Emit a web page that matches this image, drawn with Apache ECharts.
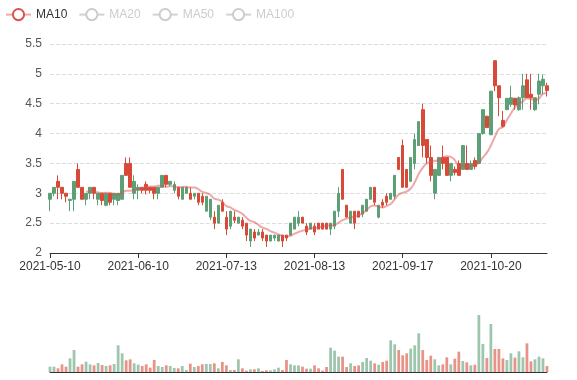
<!DOCTYPE html>
<html><head><meta charset="utf-8">
<script src="https://cdn.jsdelivr.net/npm/echarts@6/dist/echarts.min.js"></script>
<style>html,body{margin:0;padding:0;background:#fff}#c{width:577px;height:380px}</style>
</head><body><div id="c"></div>
<script>
const dates = [
'2021-05-10','2021-05-11','2021-05-12','2021-05-13','2021-05-14','2021-05-17','2021-05-18','2021-05-19','2021-05-20','2021-05-21',
'2021-05-24','2021-05-25','2021-05-26','2021-05-27','2021-05-28','2021-06-01','2021-06-02','2021-06-03','2021-06-04','2021-06-07',
'2021-06-08','2021-06-09','2021-06-10','2021-06-11','2021-06-14','2021-06-15','2021-06-16','2021-06-17','2021-06-18','2021-06-21',
'2021-06-22','2021-06-23','2021-06-24','2021-06-25','2021-06-28','2021-06-29','2021-06-30','2021-07-01','2021-07-02','2021-07-06',
'2021-07-07','2021-07-08','2021-07-09','2021-07-12','2021-07-13','2021-07-14','2021-07-15','2021-07-16','2021-07-19','2021-07-20',
'2021-07-21','2021-07-22','2021-07-23','2021-07-26','2021-07-27','2021-07-28','2021-07-29','2021-07-30','2021-08-02','2021-08-03',
'2021-08-04','2021-08-05','2021-08-06','2021-08-09','2021-08-11','2021-08-12','2021-08-13','2021-08-16','2021-08-17','2021-08-18',
'2021-08-19','2021-08-20','2021-08-23','2021-08-24','2021-08-25','2021-08-26','2021-08-27','2021-08-30','2021-08-31','2021-09-01',
'2021-09-02','2021-09-03','2021-09-07','2021-09-08','2021-09-09','2021-09-13','2021-09-14','2021-09-16','2021-09-17','2021-09-20',
'2021-09-21','2021-09-22','2021-09-23','2021-09-24','2021-09-27','2021-09-28','2021-09-29','2021-09-30','2021-10-01','2021-10-04',
'2021-10-05','2021-10-06','2021-10-07','2021-10-08','2021-10-11','2021-10-12','2021-10-13','2021-10-14','2021-10-15','2021-10-18',
'2021-10-20','2021-10-21','2021-10-22','2021-10-25','2021-10-26','2021-10-27','2021-10-28','2021-10-29','2021-11-01','2021-11-02',
'2021-11-03','2021-11-04','2021-11-05','2021-11-08','2021-11-09'];

const closes = [
3.0,3.1,3.1,3.0,2.95,2.9,3.2,3.1,2.9,3.0,
3.1,3.0,3.0,2.88,3.0,2.85,3.0,3.0,3.3,3.3,
3.1,3.2,3.1,3.05,3.05,3.05,3.0,3.1,3.3,3.15,
3.2,3.15,2.95,3.1,3.1,2.9,3.0,2.85,2.85,2.95,
2.9,2.5,2.8,2.7,2.4,2.7,2.55,2.6,2.45,2.3,
2.4,2.25,2.35,2.25,2.2,2.3,2.3,2.3,2.2,2.25,
2.5,2.6,2.6,2.5,2.35,2.5,2.35,2.4,2.4,2.4,
2.5,2.7,3.0,2.9,2.6,2.7,2.5,2.6,2.8,2.9,
3.1,2.85,2.8,2.8,2.85,3.0,3.3,3.4,3.1,3.1,
3.6,3.9,4.2,3.8,3.6,3.3,3.4,3.6,3.5,3.3,
3.5,3.35,3.3,3.8,3.4,3.5,3.45,4.0,4.4,4.1,
4.71,4.8,4.6,4.12,4.59,4.6,4.48,4.6,4.8,4.6,
4.6,4.6,4.88,4.91,4.72];
const opens = [
2.9,3.0,3.2,3.1,3.0,2.88,2.9,3.4,3.1,2.9,
3.0,3.1,2.9,3.0,2.8,3.0,2.9,2.88,2.9,3.5,
3.5,3.0,3.05,3.1,3.15,3.1,3.1,3.0,3.1,3.3,
3.15,3.05,3.1,2.9,3.0,3.0,2.95,3.0,2.95,2.7,
2.6,2.6,2.5,2.85,2.6,2.45,2.6,2.5,2.55,2.5,
2.2,2.35,2.3,2.35,2.3,2.2,2.25,2.2,2.3,2.3,
2.3,2.4,2.5,2.6,2.45,2.4,2.45,2.5,2.5,2.5,
2.4,2.45,2.7,3.4,2.8,2.5,2.7,2.7,2.65,2.7,
2.9,3.1,2.6,2.85,2.95,2.9,2.95,3.6,3.8,3.4,
3.2,3.5,3.8,4.4,3.9,3.6,3.0,3.3,3.6,3.6,
3.3,3.4,3.5,3.4,3.5,3.4,3.55,3.5,4.0,4.29,
3.98,5.22,4.8,4.22,4.4,4.49,4.59,4.4,4.6,4.9,
4.66,4.4,4.66,4.8,4.8];
const lows = [
2.7,2.95,2.9,2.9,2.85,2.7,2.7,3.1,2.9,2.8,
2.9,2.9,2.8,2.8,2.78,2.8,2.8,2.8,2.9,3.3,
3.1,2.9,2.9,3.0,2.98,3.0,2.9,2.9,3.1,3.1,
3.12,3.0,2.9,2.9,3.0,2.9,2.9,2.8,2.8,2.7,
2.55,2.4,2.5,2.7,2.3,2.4,2.5,2.5,2.4,2.2,
2.1,2.2,2.3,2.2,2.1,2.2,2.2,2.2,2.1,2.2,
2.3,2.4,2.45,2.5,2.3,2.4,2.3,2.4,2.4,2.4,
2.3,2.4,2.6,2.9,2.6,2.5,2.4,2.6,2.6,2.7,
2.9,2.8,2.58,2.75,2.8,2.9,2.9,3.4,3.1,3.1,
3.2,3.4,3.8,3.6,3.5,3.2,2.9,3.3,3.4,3.3,
3.2,3.3,3.3,3.4,3.4,3.4,3.4,3.5,3.98,4.1,
3.98,4.71,4.29,4.1,4.4,4.45,4.4,4.38,4.4,4.6,
4.4,4.38,4.49,4.66,4.62];
const highs = [
3.0,3.1,3.3,3.1,3.0,2.9,3.2,3.5,3.1,3.0,
3.1,3.1,3.0,3.0,3.0,3.0,3.0,3.0,3.3,3.6,
3.6,3.3,3.15,3.1,3.2,3.1,3.1,3.1,3.3,3.3,
3.2,3.2,3.1,3.1,3.1,3.1,3.0,3.0,3.0,2.95,
2.9,2.7,2.8,2.9,2.7,2.7,2.7,2.6,2.6,2.5,
2.4,2.4,2.4,2.4,2.3,2.3,2.3,2.3,2.3,2.3,
2.5,2.6,2.7,2.6,2.5,2.5,2.5,2.5,2.5,2.5,
2.5,2.7,3.1,3.4,2.8,2.7,2.7,2.7,2.8,2.9,
3.1,3.1,2.8,2.9,3.0,3.0,3.3,3.6,3.9,3.4,
3.6,4.0,4.2,4.5,3.9,3.8,3.4,3.6,3.8,3.6,
3.5,3.45,3.55,3.8,3.8,3.55,3.6,4.0,4.4,4.3,
4.71,5.22,4.8,4.38,4.59,4.8,4.6,4.62,5.0,5.0,
5.0,4.6,5.0,4.99,4.85];
const volumes = [
16,16,11,23,16,41,66,16,23,31,
23,20,27,21,18,20,24,80,56,35,
38,26,22,18,23,13,36,18,15,20,
18,12,11,18,6,25,15,18,23,24,
24,26,11,30,20,6,6,38,11,4,
8,8,11,3,5,5,8,13,6,36,
23,20,20,16,10,10,20,11,4,15,
73,64,46,46,15,26,18,20,30,42,
34,26,22,30,34,95,83,66,50,56,
70,80,116,66,36,49,38,20,23,44,
23,40,61,33,29,20,22,171,84,42,
144,69,69,41,36,56,43,62,44,86,
32,38,46,41,18];

const UP = '#5d9f76', DOWN = '#d84a38';
const candle = dates.map((d,i)=>[opens[i],closes[i],lows[i],highs[i]]);
function ma(n){ const r=[]; for(let i=0;i<closes.length;i++){ if(i<n-1){r.push('-');continue;} let s=0; for(let j=0;j<n;j++) s+=closes[i-j]; r.push(+(s/n).toFixed(3)); } return r; }
const vol = volumes.map((v,i)=>({value:v,itemStyle:{color: closes[i]>=opens[i]?UP:DOWN, opacity:0.6}}));

const chart = echarts.init(document.getElementById('c'));
chart.setOption({
  animation:false,
  legend:{ left:0, top:3, itemGap:11, data:['MA10','MA20','MA50','MA100'], selected:{MA20:false,MA50:false,MA100:false}, textStyle:{color:'#333',fontSize:12}, inactiveColor:'#ccc' },
  grid:[{left:50,right:30,top:44,height:209},{left:50,right:30,top:315,height:57}],
  xAxis:[
    {type:'category',data:dates,boundaryGap:false,axisLine:{lineStyle:{color:'#333'}},axisTick:{interval:21},axisLabel:{interval:21,color:'#333',fontSize:12},splitLine:{show:false}},
    {type:'category',gridIndex:1,data:dates,boundaryGap:false,axisLine:{lineStyle:{color:'#333'}},axisTick:{show:false},axisLabel:{show:false}}
  ],
  yAxis:[
    {min:2,max:5.5,interval:0.5,axisLine:{show:false},axisTick:{show:false},axisLabel:{color:'#555',fontSize:12},splitLine:{lineStyle:{type:'dashed',color:'#ddd'}}},
    {gridIndex:1,min:0,max:'dataMax',show:false,splitLine:{show:false}}
  ],
  series:[
    {type:'candlestick',name:'K',data:candle,barWidth:3,itemStyle:{color:UP,color0:DOWN,borderColor:UP,borderColor0:DOWN}},
    {type:'line',name:'MA10',data:ma(10),smooth:true,showSymbol:false,itemStyle:{color:'#d9534f'},lineStyle:{width:2,opacity:0.5}},
    {type:'line',name:'MA20',data:ma(20),smooth:true,showSymbol:false,itemStyle:{color:'#d9534f'},lineStyle:{width:2,opacity:0.5}},
    {type:'line',name:'MA50',data:ma(50),smooth:true,showSymbol:false,itemStyle:{color:'#d9534f'},lineStyle:{width:2,opacity:0.5}},
    {type:'line',name:'MA100',data:ma(100),smooth:true,showSymbol:false,itemStyle:{color:'#d9534f'},lineStyle:{width:2,opacity:0.5}},
    {type:'bar',name:'Volume',xAxisIndex:1,yAxisIndex:1,data:vol}
  ]
});
</script></body></html>
